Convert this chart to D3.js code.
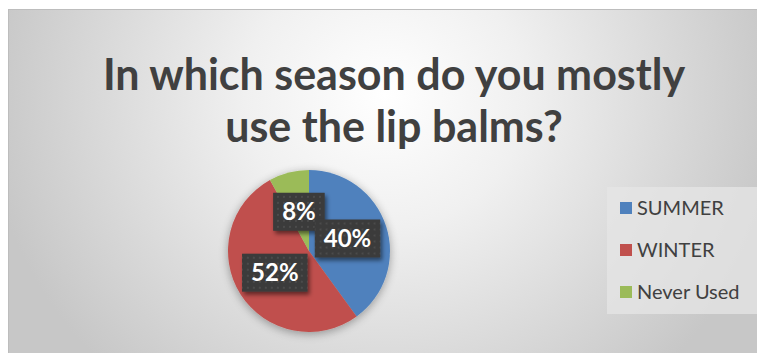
<!DOCTYPE html>
<html>
<head>
<meta charset="utf-8">
<script src="https://cdn.jsdelivr.net/npm/d3@7"></script>
<style>
  html, body { margin: 0; padding: 0; background: #ffffff; }
  svg { display: block; }
</style>
</head>
<body>
<svg id="chart" width="757" height="353"></svg>
<script>
// Survey answers
const titleLines = ["In which season do you mostly", "use the lip balms?"];
const categories = ["SUMMER", "WINTER", "Never Used"];
const shares = [40, 52, 8];
const sliceColors = ["#4F81BD", "#C0504D", "#9BBB59"];

const W = 757, H = 353;
const svg = d3.select("#chart");
const defs = svg.append("defs");

// Soft radial backdrop, bright near the title
const bg = defs.append("radialGradient")
  .attr("id", "bgGrad")
  .attr("gradientUnits", "userSpaceOnUse")
  .attr("cx", 385).attr("cy", 95).attr("r", 400)
  .attr("gradientTransform", "translate(385,95) scale(1,0.95) translate(-385,-95)");
bg.append("stop").attr("offset", 0).attr("stop-color", "#ffffff");
bg.append("stop").attr("offset", 0.35).attr("stop-color", "#f0f0f0");
bg.append("stop").attr("offset", 1).attr("stop-color", "#c7c7c7");

// Blurred shadow used under the pie and the labels
const pieShadow = defs.append("filter").attr("id", "pieShadow")
  .attr("x", "-30%").attr("y", "-30%").attr("width", "160%").attr("height", "160%");
pieShadow.append("feGaussianBlur").attr("in", "SourceAlpha").attr("stdDeviation", 5).attr("result", "b");
pieShadow.append("feOffset").attr("in", "b").attr("dx", 0).attr("dy", 2).attr("result", "o");
pieShadow.append("feComponentTransfer").attr("in", "o").attr("result", "s")
  .append("feFuncA").attr("type", "linear").attr("slope", 0.35);
const pm = pieShadow.append("feMerge");
pm.append("feMergeNode").attr("in", "s");
pm.append("feMergeNode").attr("in", "SourceGraphic");

const boxShadow = defs.append("filter").attr("id", "boxShadow")
  .attr("x", "-30%").attr("y", "-30%").attr("width", "170%").attr("height", "180%");
boxShadow.append("feGaussianBlur").attr("in", "SourceAlpha").attr("stdDeviation", 2).attr("result", "b");
boxShadow.append("feOffset").attr("in", "b").attr("dx", 2).attr("dy", 3).attr("result", "o");
boxShadow.append("feComponentTransfer").attr("in", "o").attr("result", "s")
  .append("feFuncA").attr("type", "linear").attr("slope", 0.5);
const bm = boxShadow.append("feMerge");
bm.append("feMergeNode").attr("in", "s");
bm.append("feMergeNode").attr("in", "SourceGraphic");

// Dotted fill for the label boxes
const dots = defs.append("pattern").attr("id", "dots")
  .attr("patternUnits", "userSpaceOnUse").attr("width", 6).attr("height", 6);
dots.append("rect").attr("width", 6).attr("height", 6).attr("fill", "#3a3a3a");
dots.append("rect").attr("x", 2).attr("y", 2).attr("width", 2).attr("height", 2).attr("fill", "#4c4c4c");

// Chart area
svg.append("rect")
  .attr("x", 8.5).attr("y", 9.5).attr("width", W - 8).attr("height", H - 9)
  .attr("fill", "url(#bgGrad)")
  .attr("stroke", "#bdbdbd").attr("stroke-width", 1);

// Title
const title = svg.append("text")
  .attr("text-anchor", "middle")
  .attr("font-family", "Lato, 'Open Sans', sans-serif")
  .attr("font-weight", "bold")
  .attr("font-size", 43)
  .attr("fill", "#404040");
titleLines.forEach((line, i) => {
  title.append("tspan").attr("x", 394).attr("y", 90 + i * 52).text(line);
});

// Pie
const cx = 309, cy = 251, radius = 81;
const pie = d3.pie().sort(null).value(d => d.value);
const data = categories.map((c, i) => ({ name: c, value: shares[i], color: sliceColors[i] }));
const arcs = pie(data);
const arc = d3.arc().innerRadius(0).outerRadius(radius);
const color = d3.scaleOrdinal().domain(categories).range(sliceColors);

const g = svg.append("g").attr("transform", `translate(${cx},${cy})`);
g.append("g").attr("filter", "url(#pieShadow)")
  .selectAll("path").data(arcs).join("path")
  .attr("d", arc)
  .attr("fill", d => color(d.data.name));

// Data labels in dark boxes at the slice centroids
const labelOrder = [2, 0, 1];
const lbl = g.append("g");
labelOrder.forEach(i => {
  const a = arcs[i];
  const [lx, ly] = arc.centroid(a);
  const grp = lbl.append("g").attr("transform", `translate(${lx},${ly})`);
  const rect = grp.append("rect").attr("fill", "url(#dots)").attr("filter", "url(#boxShadow)");
  const t = grp.append("text")
    .attr("text-anchor", "middle")
    .attr("dy", "0.36em")
    .attr("font-family", "Lato, 'Open Sans', sans-serif")
    .attr("font-weight", "bold")
    .attr("font-size", 24)
    .attr("fill", "#ffffff")
    .text(a.data.value + "%");
  const w = t.node().getComputedTextLength() + 18;
  const h = 38;
  rect.attr("x", -w / 2).attr("y", -h / 2).attr("width", w).attr("height", h);
});

// Legend
const legend = svg.append("g");
legend.append("rect")
  .attr("x", 607).attr("y", 187).attr("width", 152).attr("height", 127)
  .attr("fill", "#e5e5e5").attr("opacity", 0.75);
const items = legend.selectAll("g.item").data(data).join("g")
  .attr("class", "item")
  .attr("transform", (d, i) => `translate(620, ${208 + i * 42})`);
items.append("rect")
  .attr("x", 0).attr("y", -6).attr("width", 12).attr("height", 12)
  .attr("fill", d => d.color);
items.append("text")
  .attr("x", 17).attr("dy", "0.35em")
  .attr("font-family", "Lato, 'Open Sans', sans-serif")
  .attr("font-size", 20)
  .attr("fill", "#404040")
  .text(d => d.name);
</script>
</body>
</html>
